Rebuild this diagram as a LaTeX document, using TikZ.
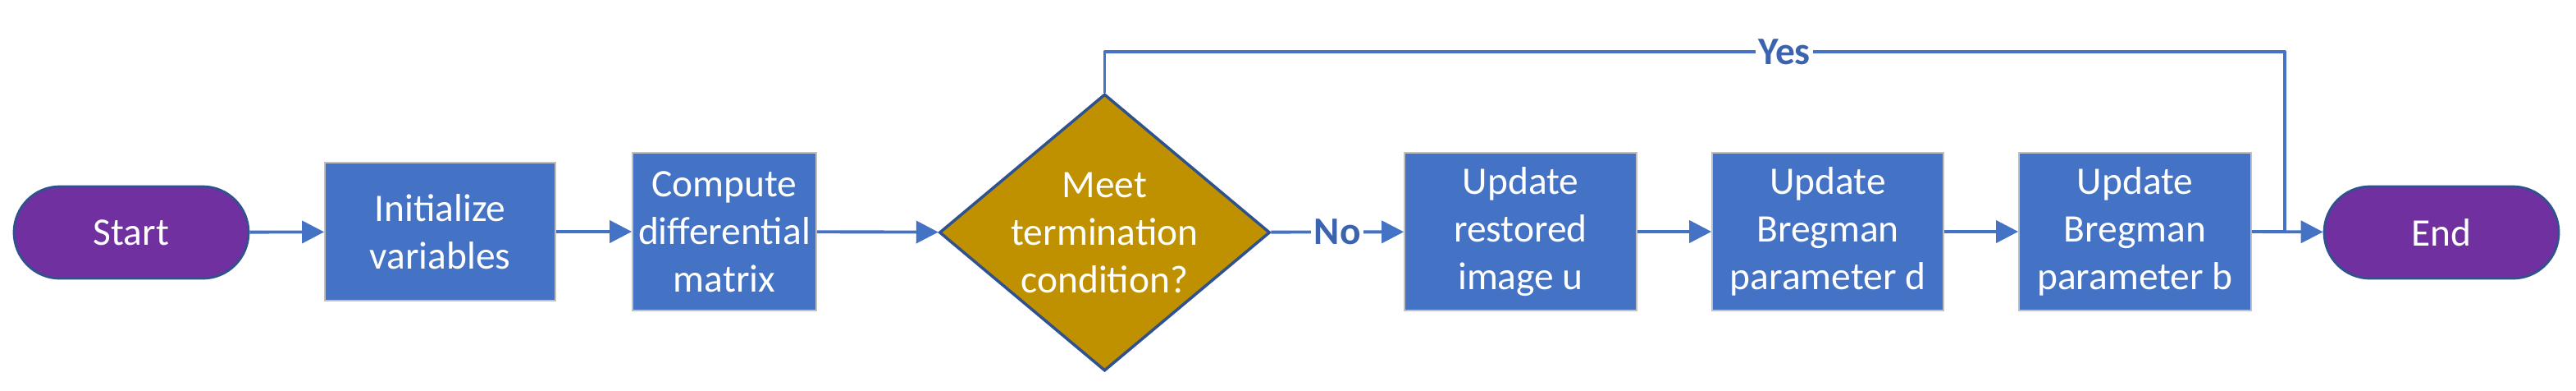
\documentclass[tikz,border=0pt]{standalone}
\usepackage{fontspec}
\setmainfont{Carlito}
\usetikzlibrary{arrows.meta,shapes.geometric}
\definecolor{procblue}{HTML}{4472C4}
\definecolor{termpurple}{HTML}{7030A0}
\definecolor{decgold}{HTML}{BF9000}
\definecolor{edgeblue}{HTML}{2F528F}
\definecolor{labblue}{HTML}{3C64AE}
\definecolor{boxgray}{HTML}{C0C0C0}
\begin{document}
\begin{tikzpicture}[>={Triangle[length=2.7mm,width=2.7mm]},
	font=\fontsize{13.5}{16.5}\selectfont,
	term/.style={draw=edgeblue,line width=0.8pt,fill=termpurple,text=white,
		rounded corners=5.6mm,minimum width=2.86cm,minimum height=1.12cm},
	proc/.style={draw=boxgray,line width=0.5pt,fill=procblue,text=white,
		align=center,inner sep=0pt},
	flow/.style={->,draw=procblue,line width=1.1pt},
	lab/.style={fill=white,text=labblue,font=\fontsize{13.5}{16.5}\selectfont\bfseries,inner sep=1pt}]
	\useasboundingbox (0,0) rectangle (31.4,4.75);
	\node[term] (start) at (1.60,1.92) {Start};
	\node[proc,minimum width=2.81cm,minimum height=1.68cm] (init) at (5.365,1.93) {Initialize\\variables};
	\node[proc,minimum width=2.24cm,minimum height=1.92cm] (comp) at (8.83,1.93) {Compute\\differential\\matrix};
	\node[diamond,draw=edgeblue,line width=1pt,fill=decgold,inner sep=0pt,
		minimum width=4.03cm,minimum height=3.37cm,
		label={[text=white,align=center]center:Meet\\termination\\condition?}] (cond) at (13.465,1.92) {};
	\node[proc,minimum width=2.83cm,minimum height=1.92cm] (upu) at (18.535,1.93) {Update\\restored\\image u};
	\node[proc,minimum width=2.82cm,minimum height=1.92cm] (upd) at (22.28,1.93) {Update\\Bregman\\parameter d};
	\node[proc,minimum width=2.83cm,minimum height=1.92cm] (upb) at (26.025,1.93) {Update\\Bregman\\parameter b};
	\node[term] (end) at (29.76,1.92) {End};
	\coordinate (corner) at (27.85,4.12);
	\coordinate (join) at (27.85,1.92);
	\draw[flow] (start) -- (init);
	\draw[flow] (init) -- (comp);
	\draw[flow] (comp) -- (cond);
	\draw[flow] (cond) -- node[lab]{No} (upu);
	\draw[flow] (upu) -- (upd);
	\draw[flow] (upd) -- (upb);
	\draw[flow] (upb.east) -- (end);
	\draw[draw=procblue,line width=1.1pt,line join=round] (cond.north) |- node[lab,pos=0.788]{Yes} (corner) -- (join);
\end{tikzpicture}
\end{document}
